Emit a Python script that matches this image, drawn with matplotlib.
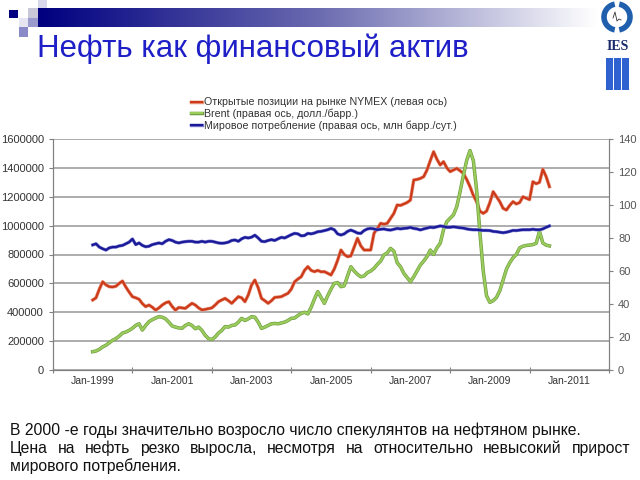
import numpy as np
import matplotlib
matplotlib.use("Agg")
import matplotlib.pyplot as plt
import matplotlib.patheffects as pe
from matplotlib.patches import Rectangle, Arc
from matplotlib.colors import LinearSegmentedColormap

plt.rcParams['font.family'] = ['Liberation Sans', 'DejaVu Sans']

# monthly values, Jan 1999 .. Jul 2010
start_year = 1999
open_interest = [  # NYMEX open interest, contracts (left axis)
    485000, 500000, 560000, 611000, 590000, 577000, 575000, 580000, 600000, 616000, 575000, 540000,
    508000, 500000, 490000, 460000, 439000, 450000, 435000, 415000, 430000, 450000, 465000, 473000,
    440000, 415000, 433000, 430000, 427000, 445000, 462000, 450000, 430000, 416000, 420000, 425000,
    430000, 450000, 473000, 485000, 496000, 480000, 462000, 485000, 508000, 500000, 473000, 520000,
    589000, 623000, 570000, 496000, 480000, 462000, 480000, 503000, 505000, 508000, 520000, 531000,
    560000, 611000, 630000, 646000, 690000, 716000, 690000, 681000, 690000, 680000, 681000, 670000,
    658000, 700000, 760000, 831000, 800000, 785000, 790000, 850000, 912000, 860000, 831000, 831000,
    831000, 947000, 980000, 1016000, 1010000, 1016000, 1050000, 1085000, 1143000, 1140000, 1150000, 1160000,
    1177000, 1316000, 1320000, 1327000, 1339000, 1385000, 1450000, 1512000, 1460000, 1420000, 1443000, 1400000,
    1374000, 1385000, 1397000, 1380000, 1362000, 1320000, 1270000, 1210000, 1166000, 1100000, 1085000, 1100000,
    1160000, 1235000, 1200000, 1166000, 1120000, 1108000, 1140000, 1166000, 1150000, 1160000, 1200000, 1190000,
    1180000, 1304000, 1290000, 1300000, 1390000, 1340000, 1270000,
]
brent = [  # USD/bbl (right axis)
    11.1, 11.5, 12.5, 14, 15, 16.5, 18, 19, 20.5, 22.4, 23, 24,
    25.3, 27, 28, 24.2, 27, 29.3, 30.5, 31.5, 32.3, 32, 31, 29,
    26.7, 26, 25.5, 25.3, 27, 28, 27, 25, 26, 24, 21, 19,
    18.5, 20, 22.4, 24, 26.3, 26, 27, 27.3, 29, 31.3, 30, 31,
    32.3, 32, 29, 25.2, 26, 27, 28, 28.2, 28, 28.5, 29, 30,
    31.3, 31.5, 33, 34.3, 35, 34, 38, 43, 47.5, 44, 40.4, 45,
    49, 52.5, 53, 50.5, 51, 57, 62.6, 60, 58, 56.5, 57, 59,
    60, 61.6, 64, 66, 69.7, 71, 73.7, 72, 65, 62.6, 58.6, 56,
    53.5, 56.5, 60, 63.6, 66, 68.7, 72.7, 70, 74, 76.8, 85, 89.9,
    92, 94, 99, 108, 118, 127, 133, 127, 109, 83, 60, 45,
    41, 42, 44, 48, 54.5, 61, 65, 68, 70, 74, 75, 75.5,
    75.7, 76, 76.8, 84, 77, 75.7, 75.2,
]
consumption = [  # world oil demand, mb/d (right axis)
    75.8, 76.5, 74.5, 73.5, 72.7, 74, 74.5, 74.5, 75.2, 75.5, 76.5, 77.5,
    79.4, 76, 77, 75.5, 74.7, 75, 76, 76.5, 77, 76.5, 78, 79,
    78.5, 77.5, 77, 77.5, 77.8, 78, 78, 77.5, 77.5, 78, 77.5, 78,
    78, 77.5, 77, 76.8, 77, 77.5, 78.5, 78.8, 78, 79.5, 80.4, 80,
    80.5, 81.7, 80, 78, 77.8, 78.5, 79, 78.5, 79.5, 80.4, 80, 81,
    82, 82.8, 82.5, 81.3, 81.5, 82.8, 82.5, 83, 83.8, 84, 84.5, 85,
    85.8, 85, 82.5, 81.8, 82.5, 84, 84.8, 84, 83, 82.8, 84.5, 85.5,
    85.8, 85.5, 85, 85.3, 85.5, 85, 84.8, 85.3, 85.8, 85.5, 85.8, 86,
    86.4, 85.8, 85.5, 84.9, 85.5, 86, 86.5, 86.3, 86.8, 87.3, 87, 86.5,
    86.5, 86.8, 86.5, 86.2, 86, 85.5, 85.2, 85, 85, 84.8, 84.6, 84.6,
    84.5, 84, 83.8, 83.5, 83.2, 83.5, 84, 84.6, 84.5, 84.8, 85, 85,
    85, 85.3, 85, 85, 85.5, 86.5, 87.3,
]
year_labels = ['Jan-1999', 'Jan-2001', 'Jan-2003', 'Jan-2005', 'Jan-2007', 'Jan-2009', 'Jan-2011']
legend_labels = ['Открытые позиции на рынке NYMEX (левая ось)',
                 'Brent (правая ось, долл./барр.)',
                 'Мировое потребление (правая ось, млн барр./сут.)']
title = 'Нефть как финансовый актив'
note_line1 = 'В 2000 -е годы значительно возросло число спекулянтов на нефтяном рынке.'
note_line2 = 'Цена на нефть резко выросла, несмотря на относительно невысокий прирост'
note_line3 = 'мирового потребления.'

t = start_year + np.arange(len(open_interest)) / 12.0

fig = plt.figure(figsize=(6.4, 4.8), dpi=100)

# decorations layer in pixel coordinates
deco = fig.add_axes([0, 0, 1, 1], zorder=0)
deco.set_xlim(0, 640)
deco.set_ylim(480, 0)
deco.axis('off')

grad = np.linspace(0, 1, 256).reshape(1, -1)
band = LinearSegmentedColormap.from_list('band', ['#000080', '#6a6ab0', '#ffffff'])
deco.imshow(grad, cmap=band, extent=(38, 598, 27, 8), aspect='auto', interpolation='bilinear')
for (x, y, w, h, c) in [(9, 10, 9, 8, '#000080'), (28, 8, 10, 10, '#c8c8d8'),
                        (38, 0, 9, 8, '#d8d8ec'), (28, 18, 10, 9, '#9a9acc'),
                        (19, 27, 9, 10, '#8a8ac8'), (19, 18, 9, 9, '#e6e6f2')]:
    deco.add_patch(Rectangle((x, y), w, h, color=c, lw=0))

# logo
deco.add_patch(Arc((617, 17), 26, 26, theta1=100, theta2=260, lw=4, color='#1f5fae'))
deco.add_patch(Arc((617, 17), 26, 26, theta1=-80, theta2=80, lw=4, color='#1f5fae'))
deco.plot([613, 615, 617, 619, 621], [18, 12, 21, 19, 20], color='#333333', lw=0.6)
deco.text(618, 47, 'IES', ha='center', va='center', fontsize=10, fontweight='bold',
          family=['Liberation Serif', 'DejaVu Serif'], color='#1a2a6a')
for bx in [606, 614, 622]:
    deco.add_patch(Rectangle((bx, 58), 7, 32, color='#2f62d0', lw=0))

deco.text(37, 57, title, fontsize=22.5, color='#1f1fc8', ha='left', va='baseline')

# chart
ax = fig.add_axes([53 / 640, 1 - 370 / 480, 556 / 640, 231 / 480], zorder=1)
ax2 = ax.twinx()
ax.patch.set_alpha(0)

red, green, blue = '#cc3a1a', '#99cc5c', '#1a1a99'
l1, = ax.plot(t, open_interest, color=red, lw=1.6,
              path_effects=[pe.Stroke(linewidth=2.5, foreground='#e8957e'), pe.Normal()])
l2, = ax2.plot(t, brent, color=green, lw=1.6,
               path_effects=[pe.Stroke(linewidth=2.5, foreground='#6e9a3c'), pe.Normal()])
l3, = ax2.plot(t, consumption, color=blue, lw=1.6,
               path_effects=[pe.Stroke(linewidth=2.4, foreground='#7a7ad0'), pe.Normal()])

ax.set_xlim(1998, 2012)
ax.set_ylim(0, 1600000)
ax2.set_ylim(0, 140)
ax.set_yticks(np.arange(0, 1600001, 200000))
ax.set_yticklabels([str(v) for v in range(0, 1600001, 200000)])
ax2.set_yticks(np.arange(0, 141, 20))
ax.set_xticks(np.arange(1998, 2013, 2))
ax.set_xticklabels([])
ax.set_xticks(np.arange(1999, 2012, 2), minor=True)
ax.set_xticklabels(year_labels, minor=True)
ax.tick_params(axis='x', which='major', direction='inout', length=5, color='#808080')
ax.tick_params(axis='x', which='minor', length=0, labelsize=7.5, labelcolor='#333333', pad=4)
ax.tick_params(axis='y', direction='out', length=3, color='#808080', labelsize=8, labelcolor='#333333')
ax2.tick_params(axis='y', direction='out', length=3, color='#808080', labelsize=8, labelcolor='#555555')
ax.grid(axis='y', color='#a0a0a0', lw=1.2)
ax.set_axisbelow(True)
for a in (ax, ax2):
    a.spines['top'].set_visible(False)
    for s in ('left', 'right', 'bottom'):
        a.spines[s].set_color('#808080')

fig.legend([l1, l2, l3], legend_labels, loc='upper left', bbox_to_anchor=(186 / 640, 1 - 92 / 480),
           frameon=False, fontsize=7.7, handlelength=1.0, handletextpad=0.2,
           labelspacing=0.12, labelcolor='#333333', borderpad=0)

# notes under the chart
note_size = 11.3
deco.text(10, 435, note_line1, fontsize=note_size, ha='left', va='baseline', color='#111111')
deco.text(10, 471, note_line3, fontsize=note_size, ha='left', va='baseline', color='#111111')

# justified second line
words = note_line2.split()
objs = [deco.text(0, 453, w, fontsize=note_size, ha='left', va='baseline', color='#111111') for w in words]
fig.canvas.draw()
r = fig.canvas.get_renderer()
widths = [o.get_window_extent(r).width for o in objs]
gap = (630 - 10 - sum(widths)) / (len(words) - 1)
x = 10
for o, w in zip(objs, widths):
    o.set_x(x)
    x += w + gap

fig.savefig('out.png', dpi=100)
